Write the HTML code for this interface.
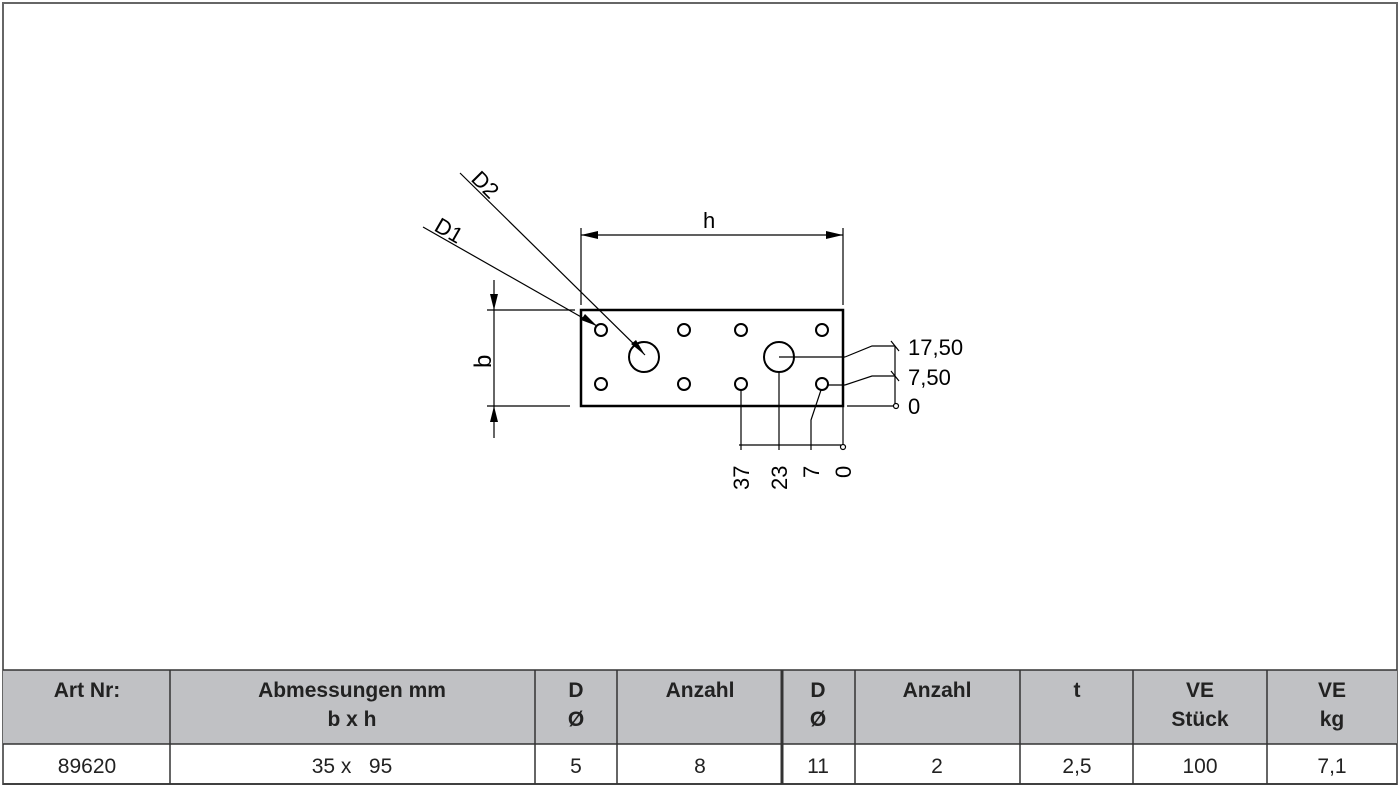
<!DOCTYPE html>
<html><head><meta charset="utf-8"><style>
body{margin:0;width:1400px;height:786px;background:#fff;overflow:hidden;font-family:"Liberation Sans",sans-serif}
svg{position:absolute;left:0;top:0}
text{white-space:pre}
</style></head><body>
<svg width="1400" height="786" viewBox="0 0 1400 786">
<rect x="3" y="3" width="1394" height="781" fill="#fff" stroke="#666" stroke-width="2"/>
<g stroke="#000" fill="none" stroke-width="1.2">
<rect x="581" y="310" width="262" height="96" stroke-width="2.5"/>
<g stroke-width="2">
<circle cx="601" cy="330" r="6"/><circle cx="684" cy="330" r="6"/><circle cx="741" cy="330" r="6"/><circle cx="822" cy="330" r="6"/>
<circle cx="601" cy="384" r="6"/><circle cx="684" cy="384" r="6"/><circle cx="741" cy="384" r="6"/><circle cx="822" cy="384" r="6"/>
<circle cx="644" cy="357" r="15"/><circle cx="779" cy="357" r="15"/>
</g>
<line x1="581" y1="228" x2="581" y2="305"/><line x1="843" y1="228" x2="843" y2="305"/>
<line x1="581" y1="235" x2="843" y2="235"/>
<line x1="494" y1="280" x2="494" y2="438"/>
<line x1="487" y1="310" x2="575" y2="310"/><line x1="487" y1="406" x2="570" y2="406"/>
<line x1="423" y1="227" x2="597" y2="326"/><line x1="460" y1="173" x2="645" y2="355"/>
<line x1="895" y1="346" x2="895" y2="404"/>
<line x1="779" y1="357" x2="845" y2="357"/><polyline points="845,357 872,346 895,346"/>
<line x1="828" y1="385" x2="845" y2="385"/><polyline points="845,385 872,376 895,376"/>
<line x1="847" y1="406" x2="893" y2="406"/>
<circle cx="896" cy="406" r="2.5"/>
<line x1="891" y1="341" x2="899" y2="351"/><line x1="891" y1="371" x2="899" y2="381"/>
<line x1="741" y1="390" x2="741" y2="450"/><line x1="779" y1="372" x2="779" y2="450"/>
<polyline points="821,390 811,420 811,450"/>
<line x1="843" y1="395" x2="843" y2="444"/>
<line x1="739" y1="445" x2="841" y2="445"/>
<circle cx="843" cy="447" r="2.5"/>
</g>
<g fill="#000">
<polygon points="581,235 598,231 598,239"/><polygon points="843,235 826,231 826,239"/>
<polygon points="494,310 490,294 498,294"/><polygon points="494,406 490,422 498,422"/>
<polygon points="597,326 581,320 585,314"/><polygon points="645,355 631,344 636,340"/>
</g>
<g font-family="Liberation Sans,sans-serif" font-size="22" fill="#000">
<text x="703" y="228">h</text>
<text font-size="24" transform="translate(491,368) rotate(-90)">b</text>
<text transform="translate(433,230) rotate(30)">D1</text>
<text transform="translate(470,180) rotate(45)">D2</text>
<text x="908" y="355">17,50</text>
<text x="908" y="385">7,50</text>
<text x="908" y="414">0</text>
<text transform="translate(749,490) rotate(-90)">37</text>
<text transform="translate(787,490) rotate(-90)">23</text>
<text transform="translate(819,478) rotate(-90)">7</text>
<text transform="translate(851,478) rotate(-90)">0</text>
</g>
<rect x="3" y="670" width="1394" height="74" fill="#c0c1c4"/>
<g stroke="#333" stroke-width="1.5" fill="none">
<line x1="3" y1="670" x2="1397" y2="670"/><line x1="3" y1="744" x2="1397" y2="744"/><line x1="3" y1="784" x2="1397" y2="784"/>
<line x1="170" y1="670" x2="170" y2="784"/><line x1="535" y1="670" x2="535" y2="784"/><line x1="617" y1="670" x2="617" y2="784"/>
<line x1="782" y1="670" x2="782" y2="784" stroke-width="3"/>
<line x1="855" y1="670" x2="855" y2="784"/><line x1="1020" y1="670" x2="1020" y2="784"/><line x1="1133" y1="670" x2="1133" y2="784"/><line x1="1267" y1="670" x2="1267" y2="784"/>
</g>
<g font-family="Liberation Sans,sans-serif" font-size="21" text-anchor="middle" fill="#222">
<g font-weight="bold">
<text x="87" y="697">Art Nr:</text>
<text x="352" y="697">Abmessungen mm</text><text x="352" y="726">b x h</text>
<text x="576" y="697">D</text><text x="576" y="726">Ø</text>
<text x="700" y="697">Anzahl</text>
<text x="818" y="697">D</text><text x="818" y="726">Ø</text>
<text x="937" y="697">Anzahl</text>
<text x="1077" y="697">t</text>
<text x="1200" y="697">VE</text><text x="1200" y="726">Stück</text>
<text x="1332" y="697">VE</text><text x="1332" y="726">kg</text>
</g>
<text x="87" y="773">89620</text>
<text x="352" y="773">35 x   95</text>
<text x="576" y="773">5</text>
<text x="700" y="773">8</text>
<text x="818" y="773">11</text>
<text x="937" y="773">2</text>
<text x="1077" y="773">2,5</text>
<text x="1200" y="773">100</text>
<text x="1332" y="773">7,1</text>
</g>
</svg>
</body></html>
